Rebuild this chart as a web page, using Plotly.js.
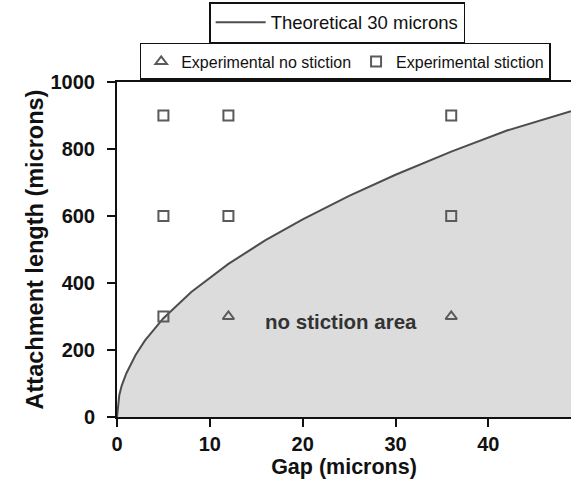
<!DOCTYPE html>
<html>
<head>
<meta charset="utf-8">
<script src="https://cdn.plot.ly/plotly-3.0.1.min.js"></script>
<style>html,body{margin:0;padding:0;background:#fff;}#chart{width:571px;height:489px;}</style>
</head>
<body>
<div id="chart"></div>
<script>
// Theoretical curve (30 microns)
var curveGap = [0, 0.25, 0.5, 1, 2, 3, 5, 8, 12, 16, 20, 25, 30, 36, 42, 48.9];
var curveLen = [0, 66, 93, 130, 185, 228, 295, 373, 457, 528, 590, 660, 723, 792, 855, 913];
// Experimental points
var noStictionGap = [12, 36];
var noStictionLen = [300, 300];
var stictionGap = [5, 12, 36, 5, 12, 36, 5];
var stictionLen = [900, 900, 900, 600, 600, 600, 300];
var xTicks = [0, 10, 20, 30, 40];
var yTicks = [0, 200, 400, 600, 800, 1000];

var FONT = 'Liberation Sans, Arial, Helvetica, sans-serif';

var traces = [
  {x: curveGap, y: curveLen, type: 'scatter', mode: 'lines', fill: 'tozeroy',
   fillcolor: '#dcdcdc', line: {width: 0, color: 'rgba(0,0,0,0)'}, showlegend: false, hoverinfo: 'skip'},
  {x: curveGap, y: curveLen, type: 'scatter', mode: 'lines', name: 'Theoretical 30 microns',
   line: {color: '#4d4d4d', width: 2}, legend: 'legend'},
  {x: noStictionGap, y: noStictionLen, type: 'scatter', mode: 'markers', name: 'Experimental no stiction',
   marker: {symbol: 'triangle-up-open', size: 10, color: '#5a5a5a', line: {width: 2, color: '#5a5a5a'}}, legend: 'legend2'},
  {x: stictionGap, y: stictionLen, type: 'scatter', mode: 'markers', name: 'Experimental stiction',
   marker: {symbol: 'square-open', size: 10, color: '#5a5a5a', line: {width: 2, color: '#5a5a5a'}}, legend: 'legend2'}
];

var layout = {
  width: 571, height: 489,
  margin: {l: 117, r: 0, t: 82, b: 72, autoexpand: false},
  paper_bgcolor: '#ffffff', plot_bgcolor: '#ffffff',
  font: {family: FONT, color: '#111111', size: 18},
  xaxis: {range: [0, 48.9], tickvals: xTicks, ticktext: xTicks.map(String),
    showgrid: false, zeroline: false, showline: true, linecolor: '#111', linewidth: 2, mirror: true,
    ticks: 'outside', ticklen: 8, tickwidth: 2, tickcolor: '#111',
    tickfont: {family: FONT, size: 20, color: '#111', weight: 'bold'},
    title: {text: 'Gap (microns)', font: {family: FONT, size: 21.5, color: '#111', weight: 'bold'}, standoff: 2}},
  yaxis: {range: [0, 1000], tickvals: yTicks, ticktext: yTicks.map(String),
    showgrid: false, zeroline: false, showline: true, linecolor: '#111', linewidth: 2,
    ticks: 'outside', ticklen: 8, tickwidth: 2, tickcolor: '#111', ticklabelstandoff: 8,
    tickfont: {family: FONT, size: 20, color: '#111', weight: 'bold'},
    title: {text: 'Attachment length (microns)', font: {family: FONT, size: 23.5, color: '#111', weight: 'bold'}, standoff: 0}},
  legend: {x: 0.203, xanchor: 'left', y: 1.116, yanchor: 'bottom', orientation: 'v', itemwidth: 50,
    bgcolor: '#ffffff', bordercolor: '#111', borderwidth: 1.5, font: {family: FONT, size: 18.5, color: '#111'}},
  legend2: {x: 0.05, xanchor: 'left', y: 1.006, yanchor: 'bottom', orientation: 'h',
    bgcolor: '#ffffff', bordercolor: '#111', borderwidth: 1.5, font: {family: FONT, size: 16, color: '#111'}},
  annotations: [{x: 24.1, y: 284, xref: 'x', yref: 'y', text: 'no stiction area', showarrow: false,
    font: {family: FONT, size: 20.5, color: '#333333', weight: 'bold'}}]
};

Plotly.newPlot('chart', traces, layout, {displayModeBar: false, staticPlot: true});
</script>
</body>
</html>
